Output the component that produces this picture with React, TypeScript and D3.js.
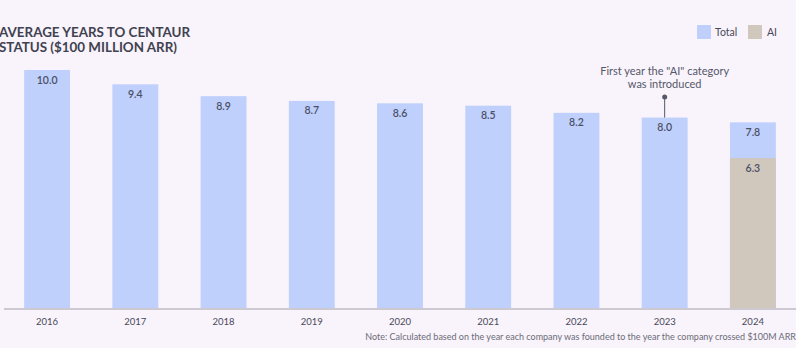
import React from 'react';
import * as d3 from 'd3';

const years = ['2016', '2017', '2018', '2019', '2020', '2021', '2022', '2023', '2024'];
const totalYears = [10.0, 9.4, 8.9, 8.7, 8.6, 8.5, 8.2, 8.0, 7.8];
// AI category only exists from 2024 onwards
const aiYears: (number | null)[] = [null, null, null, null, null, null, null, null, 6.3];

const WIDTH = 796;
const HEIGHT = 348;
const TOTAL_COLOR = '#bfd0fc';
const AI_COLOR = '#d0c7bd';
const TEXT_COLOR = '#474a58';
const FONT = 'Lato, "Noto Sans", sans-serif';

const App: React.FC = () => {
  const x = d3.scaleBand().domain(years).range([3, 797]).paddingInner(0.48).paddingOuter(0.24);
  const y = d3.scaleLinear().domain([0, 10]).range([308, 70]);
  const bw = x.bandwidth();

  const annX = x('2023')! + bw / 2;
  const annTop = y(totalYears[7]);

  return (
    <div style={{ position: 'fixed', left: 0, top: 0, width: WIDTH, height: HEIGHT, background: '#f9f3fb' }}>
      <svg width={WIDTH} height={HEIGHT} style={{ display: 'block', fontFamily: FONT }}>
        <rect width={WIDTH} height={HEIGHT} fill="#f9f3fb" />

        <text x={-1} y={37} fontSize={13.4} fontWeight={700} fill="#3f4250">
          AVERAGE YEARS TO CENTAUR
        </text>
        <text x={-1} y={52} fontSize={13.4} fontWeight={700} fill="#3f4250">
          STATUS ($100 MILLION ARR)
        </text>

        {/* legend */}
        <g fontSize={10.5} fill={TEXT_COLOR}>
          <rect x={697} y={25} width={14} height={14} fill={TOTAL_COLOR} />
          <text x={715} y={36}>Total</text>
          <rect x={748} y={25} width={14} height={14} fill={AI_COLOR} />
          <text x={767} y={36}>AI</text>
        </g>

        {/* bars */}
        {years.map((yr, i) => (
          <g key={yr}>
            <rect x={x(yr)} y={y(totalYears[i])} width={bw} height={y(0) - y(totalYears[i])} fill={TOTAL_COLOR} />
            <text
              x={x(yr)! + bw / 2}
              y={y(totalYears[i]) + 13.5}
              textAnchor="middle"
              fontSize={10.5}
              fontWeight={600}
              fill="#4a4f66"
            >
              {totalYears[i].toFixed(1)}
            </text>
            {aiYears[i] != null && (
              <>
                <rect x={x(yr)} y={y(aiYears[i]!)} width={bw} height={y(0) - y(aiYears[i]!)} fill={AI_COLOR} />
                <text
                  x={x(yr)! + bw / 2}
                  y={y(aiYears[i]!) + 13.5}
                  textAnchor="middle"
                  fontSize={10.5}
                  fontWeight={600}
                  fill="#4a4f66"
                >
                  {aiYears[i]!.toFixed(1)}
                </text>
              </>
            )}
          </g>
        ))}

        {/* baseline */}
        <line x1={4} x2={800} y1={y(0) + 1} y2={y(0) + 1} stroke="#a0a0aa" strokeWidth={1} />

        {/* year labels */}
        {years.map(yr => (
          <text key={yr} x={x(yr)! + bw / 2} y={325} textAnchor="middle" fontSize={9.5} fill={TEXT_COLOR}>
            {yr}
          </text>
        ))}

        {/* annotation */}
        <text x={annX} y={75} textAnchor="middle" fontSize={11} fill="#55586a">
          First year the "AI" category
        </text>
        <text x={annX} y={88} textAnchor="middle" fontSize={11} fill="#55586a">
          was introduced
        </text>
        <line x1={annX} x2={annX} y1={97} y2={annTop} stroke="#55586a" strokeWidth={1} />
        <circle cx={annX} cy={97} r={2.5} fill="#55586a" />

        <text x={796} y={340} textAnchor="end" fontSize={9} fill="#6a6c78">
          Note: Calculated based on the year each company was founded to the year the company crossed $100M ARR
        </text>
      </svg>
    </div>
  );
};

export default App;
